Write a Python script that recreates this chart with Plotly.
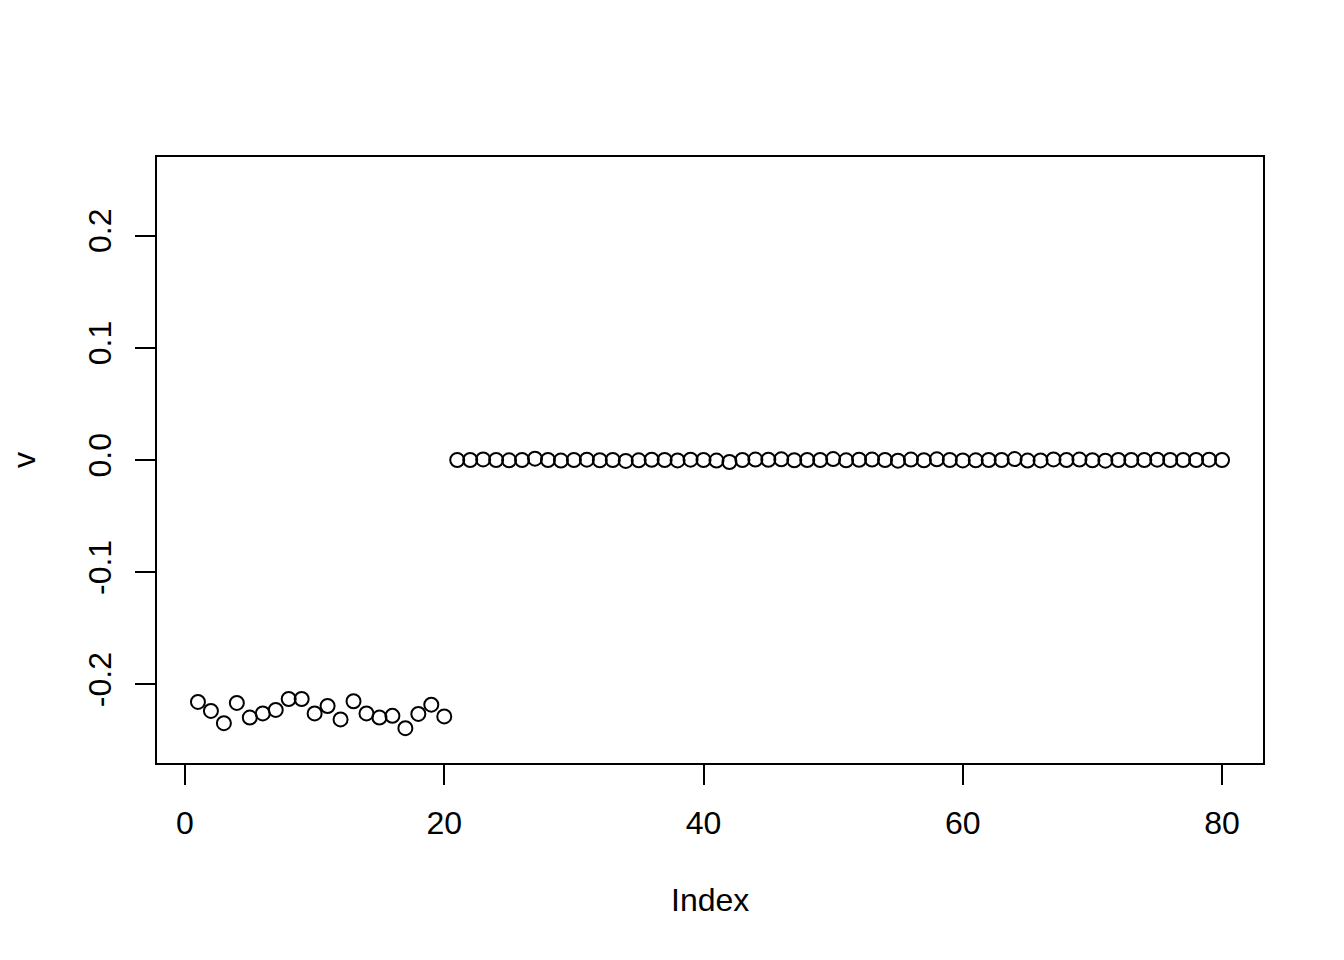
import plotly.graph_objects as go

# Index values 1..80
index = list(range(1, 81))

# first 20 values (negative group)
v_group1 = [-0.2156, -0.2236, -0.2345, -0.2165, -0.2295, -0.2258, -0.2227, -0.2130, -0.2130, -0.2258,
            -0.2192, -0.2312, -0.2150, -0.2258, -0.2295, -0.2280, -0.2390, -0.2263, -0.2180, -0.2285]
# remaining 60 values (near zero)
v_group2 = [0.0, 0.0, 0.0005, 0.0, -0.0003, 0.0, 0.0012, 0.0, -0.0005, 0.0,
            0.0003, -0.0002, 0.0, -0.0008, -0.0003, 0.0002, 0.0, -0.0004, 0.0003, 0.0,
            -0.0005, -0.0018, 0.0, 0.0004, 0.0002, 0.0006, -0.0002, 0.0, 0.0, 0.0008,
            -0.0003, 0.0002, 0.0004, 0.0, -0.0006, 0.0004, -0.0002, 0.0006, 0.0, -0.0004,
            -0.0003, 0.0, 0.0, 0.0008, -0.0005, -0.0004, 0.0005, 0.0, 0.0004, -0.0002,
            -0.0006, 0.0, 0.0, 0.0, 0.0003, 0.0, 0.0, 0.0, 0.0003, 0.0]
v = v_group1 + v_group2

x_tickvals = [0, 20, 40, 60, 80]
x_ticktext = ["0", "20", "40", "60", "80"]
y_tickvals = [-0.2, -0.1, 0.0, 0.1, 0.2]
y_ticktext = ["-0.2", "-0.1", "0.0", "0.1", "0.2"]

FONT = "Liberation Sans, Arial, Helvetica, sans-serif"

fig = go.Figure()
fig.add_trace(go.Scatter(
    x=index, y=v, mode="markers",
    marker=dict(symbol="circle-open", size=14, color="black", line=dict(width=2, color="black")),
    showlegend=False, hoverinfo="skip",
))

axis_common = dict(
    showgrid=False, zeroline=False, showline=True, mirror=True,
    linecolor="black", linewidth=2,
    ticks="outside", ticklen=20, tickwidth=2, tickcolor="black",
    tickfont=dict(family=FONT, size=32, color="black"),
)

fig.update_xaxes(range=[-2.16, 83.16], tickmode="array", tickvals=x_tickvals, ticktext=x_ticktext,
                 ticklabelstandoff=11, **axis_common)
fig.update_yaxes(range=[-0.27, 0.27], tickmode="array", tickvals=y_tickvals, ticktext=y_ticktext,
                 tickangle=-90, ticklabelstandoff=11, **axis_common)

fig.add_annotation(text="Index", xref="paper", yref="paper", x=0.5, y=(763 - 900) / 606,
                   xanchor="center", yanchor="middle", showarrow=False,
                   font=dict(family=FONT, size=32, color="black"))
fig.add_annotation(text="v", xref="paper", yref="paper", x=(24 - 157) / 1106, y=0.5,
                   xanchor="center", yanchor="middle", showarrow=False, textangle=-90,
                   font=dict(family=FONT, size=32, color="black"))

fig.update_layout(
    width=1344, height=960, autosize=False,
    margin=dict(l=157, r=81, t=157, b=197, pad=0),
    paper_bgcolor="white", plot_bgcolor="white",
    font=dict(family=FONT, size=32, color="black"),
)

fig.write_html("out.html", config={"displayModeBar": False},
               post_script="document.body.style.margin='0';")
